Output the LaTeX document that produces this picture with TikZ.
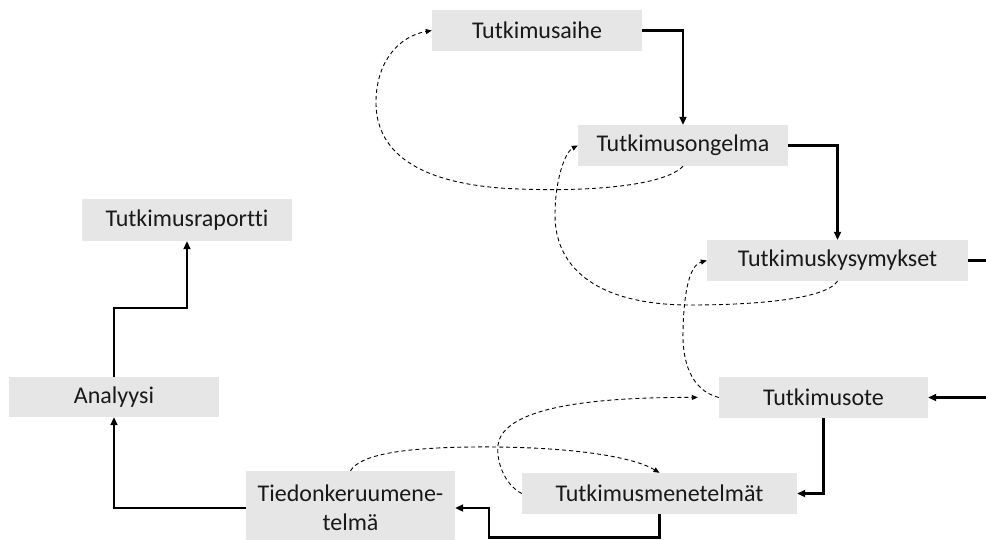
\documentclass[tikz,border=0pt]{standalone}
\usepackage{fontspec}
\setmainfont[Ligatures={NoCommon}]{Carlito}
\usetikzlibrary{arrows.meta,calc}
\definecolor{boxgray}{RGB}{231,230,230}
\definecolor{txt}{RGB}{25,25,25}
\begin{document}
\begin{tikzpicture}[x=1pt,y=-1pt,
  box/.style={fill=boxgray, inner sep=0pt, align=center, text=txt,
    font=\fontsize{24}{29}\selectfont},
  flow/.style={line width=2.6pt, -{Triangle[length=8pt,width=7pt]}},
  back/.style={line width=0.9pt, dash pattern=on 4pt off 3pt,
    -{Triangle[length=6pt,width=5pt]}}]
\useasboundingbox (0,0) rectangle (986,539);
\clip (0,0) rectangle (986,539);
\node[box, minimum width=210pt, minimum height=41pt] (aihe) at (537,30.5) {Tutkimusaihe};
\node[box, minimum width=210pt, minimum height=41pt] (ongelma) at (683,145.5) {Tutkimusongelma};
\node[box, minimum width=261pt, minimum height=41pt] (kys) at (837.5,260.5) {Tutkimuskysymykset};
\node[box, minimum width=209pt, minimum height=41pt] (ote) at (823.5,397.5) {Tutkimusote};
\node[box, minimum width=275pt, minimum height=41pt] (men) at (659.5,493.5) {Tutkimusmenetelmät};
\node[box, minimum width=209pt, minimum height=74pt] (tied) at (350.5,508) {Tiedonkeruumene-\\telmä};
\node[box, minimum width=210pt, minimum height=40pt] (ana) at (114,397) {Analyysi};
\node[box, minimum width=210pt, minimum height=42pt] (rap) at (187,220) {Tutkimusraportti};
% main flow
\draw[flow] (aihe.east) -| (ongelma.north);
\draw[flow] (ongelma.east) -| (kys.north);
\draw[flow] (kys.east) -- ++(40,0) |- (ote.east);
\draw[flow] (ote.south) |- (men.east);
\draw[flow] (men.south) |- ++(-170.5,23) |- (tied.east);
\draw[flow] (tied.west) -| (ana.south);
\draw[flow] (ana.north) -- ++(0,-69) -| (rap.south);
% feedback loops
\draw[back] (ongelma.south) .. controls (660,190) and (560,192) .. (500,188)
  .. controls (400,180) and (375,140) .. (376,100)
  .. controls (377,60) and (400,36) .. (aihe.west);
\draw[back] (kys.south) .. controls (825,300) and (750,305) .. (690,305)
  .. controls (600,305) and (555,270) .. (555,215)
  .. controls (555,180) and (565,152) .. (ongelma.west);
\draw[back] (ote.west) .. controls (690,390) and (682,360) .. (683,330)
  .. controls (684,290) and (690,265) .. (kys.west);
\draw[back, shorten >=21pt] (men.west) .. controls (505,485) and (496,462) .. (498,445)
  .. controls (502,415) and (560,397) .. (ote.west);
\draw[back] (tied.north) .. controls (360,455) and (400,448) .. (470,447)
  .. controls (560,446) and (630,455) .. (men.north);
\end{tikzpicture}
\end{document}
